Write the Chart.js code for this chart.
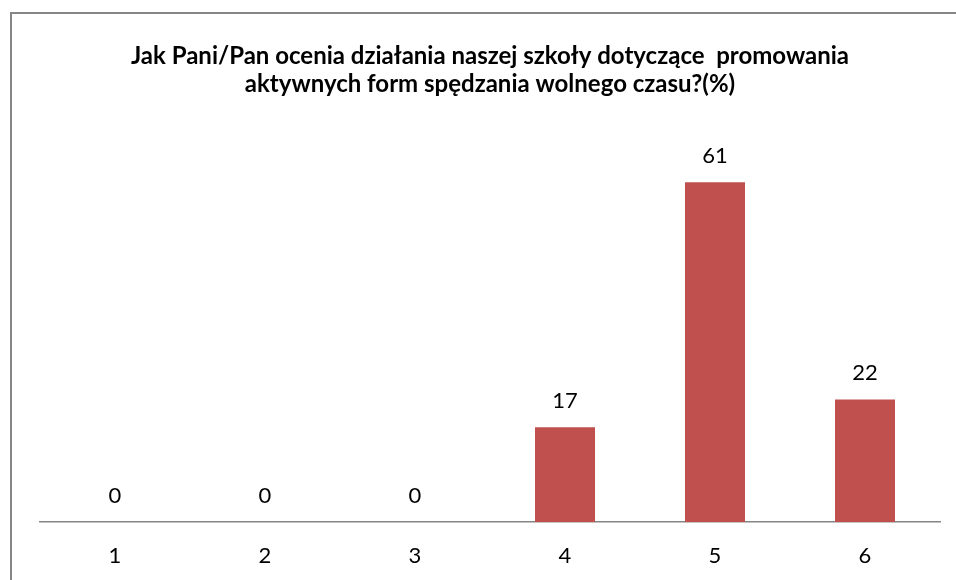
<!DOCTYPE html>
<html>
<head>
<meta charset="utf-8">
<script src="https://cdn.jsdelivr.net/npm/chart.js@4/dist/chart.umd.min.js"></script>
<style>
  html, body { margin: 0; padding: 0; background: #fff; }
  #wrap { position: relative; width: 956px; height: 580px; }
</style>
</head>
<body>
<div id="wrap"><canvas id="chart" width="956" height="580"></canvas></div>
<script>
const CATEGORIES = ['1', '2', '3', '4', '5', '6'];
const VALUES = [0, 0, 0, 17, 61, 22];
const TITLE_LINES = [
    'Jak Pani/Pan ocenia działania naszej szkoły dotyczące  promowania',
    'aktywnych form spędzania wolnego czasu?(%)'
];
const Y_MAX = 70;

const FONT = "Lato, 'Open Sans', sans-serif";
const FRAME = '#868686';

// outer frame of the chart, runs off the right and bottom edge
const framePlugin = {
    id: 'frame',
    beforeDraw(chart) {
        const c = chart.ctx;
        c.save();
        c.strokeStyle = FRAME;
        c.lineWidth = 2;
        c.strokeRect(11, 13, 1000, 1000);
        c.restore();
    }
};

// value labels above each bar
const valueLabels = {
    id: 'valueLabels',
    afterDatasetsDraw(chart) {
        const c = chart.ctx;
        const meta = chart.getDatasetMeta(0);
        c.save();
        c.fillStyle = '#000';
        c.font = '22px ' + FONT;
        c.textAlign = 'center';
        c.textBaseline = 'alphabetic';
        meta.data.forEach((bar, i) => {
            c.fillText(String(VALUES[i]), bar.x, bar.y - 19);
        });
        c.restore();
    }
};

new Chart(document.getElementById('chart').getContext('2d'), {
    type: 'bar',
    data: {
        labels: CATEGORIES,
        datasets: [{
            data: VALUES,
            backgroundColor: '#C0504D',
            borderWidth: 0,
            categoryPercentage: 1,
            barPercentage: 0.4
        }]
    },
    options: {
        responsive: false,
        animation: false,
        layout: { padding: { left: 40, right: 16, top: 0, bottom: 13 } },
        plugins: {
            legend: { display: false },
            tooltip: { enabled: false },
            title: {
                display: true,
                text: TITLE_LINES,
                color: '#000',
                font: { family: FONT, size: 24, weight: 'bold', lineHeight: 1.17 },
                padding: { top: 42, bottom: 34 }
            }
        },
        scales: {
            x: {
                grid: { display: false, drawTicks: false },
                border: { display: true, color: FRAME, width: 1.5 },
                ticks: { color: '#000', padding: 21, font: { family: FONT, size: 22 } },
                afterFit(scale) { scale.height = 45; }
            },
            y: {
                display: false,
                min: 0,
                max: Y_MAX
            }
        }
    },
    plugins: [framePlugin, valueLabels]
});
</script>
</body>
</html>
